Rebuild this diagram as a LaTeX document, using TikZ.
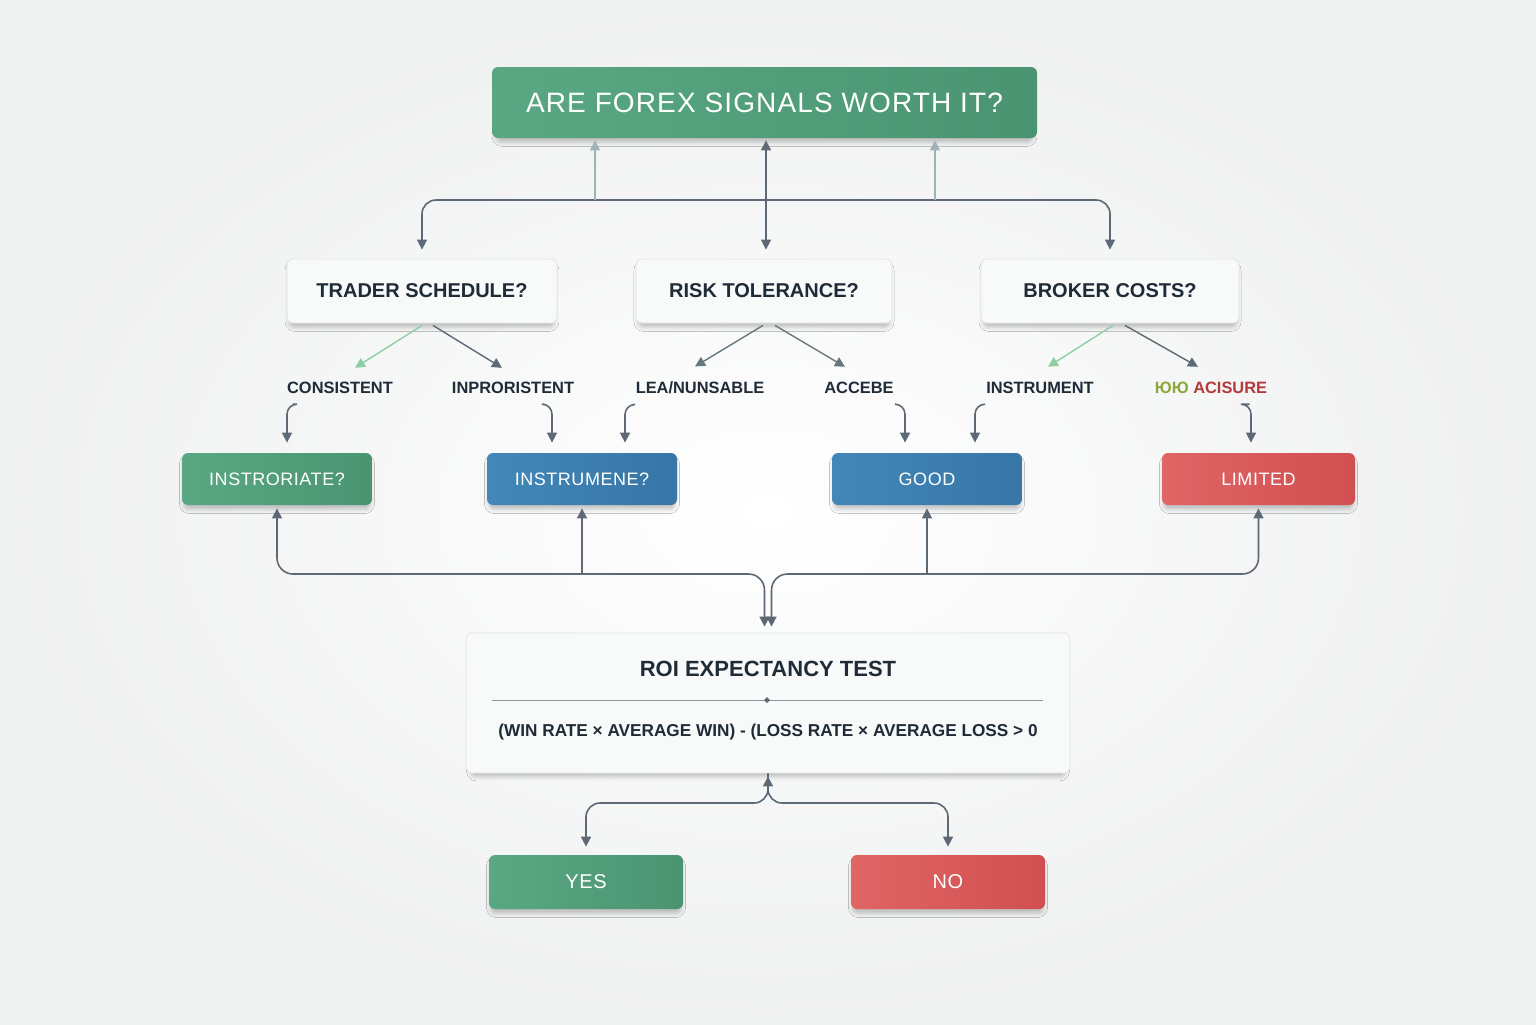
\documentclass[tikz,border=0pt]{standalone}
\usepackage{fontspec}
\setmainfont{Liberation Sans}
\newfontfamily\spaced[LetterSpace=4]{Liberation Sans}
\newfontfamily\spacedsm[LetterSpace=3]{Liberation Sans}
\usetikzlibrary{arrows.meta,shadows.blur}

\definecolor{bgedge}{HTML}{EFF0F0}
\definecolor{ink}{HTML}{1F2B37}
\definecolor{wire}{HTML}{5E6976}
\definecolor{leaf}{HTML}{8CCFA3}
\definecolor{faintwire}{HTML}{9DB3B5}
\definecolor{greenA}{HTML}{5AA883}
\definecolor{greenB}{HTML}{4A9472}
\definecolor{blueA}{HTML}{4287B8}
\definecolor{blueB}{HTML}{3776A6}
\definecolor{redA}{HTML}{E06565}
\definecolor{redB}{HTML}{D14F50}
\definecolor{qfill}{HTML}{F8F9F9}
\definecolor{qline}{HTML}{E1E4E6}
\definecolor{warn}{HTML}{B23A3C}
\definecolor{olivey}{HTML}{8BA83A}

\begin{document}
\begin{tikzpicture}[x=0.5pt, y=-0.5pt,
  >={Triangle[length=5pt,width=5pt]},
  every node/.style={inner sep=0pt},
  shade box/.style={rounded corners=3pt,
    blur shadow={shadow xshift=0pt, shadow yshift=-2.5pt, shadow scale=0.985, shadow blur radius=2pt, shadow blur extra rounding=2pt, shadow opacity=22}},
  qbox/.style={shade box, fill=qfill, draw=qline, line width=0.4pt,
    minimum height=32pt, text=ink, font=\bfseries\fontsize{10}{12}\selectfont},
  greenbox/.style={shade box, left color=greenA, right color=greenB, text=white},
  bluebox/.style={shade box, left color=blueA, right color=blueB, text=white},
  redbox/.style={shade box, left color=redA, right color=redB, text=white},
  result/.style={minimum width=95pt, minimum height=26pt, font=\spacedsm\fontsize{9}{11}\selectfont},
  answer/.style={minimum width=97pt, minimum height=27pt, font=\spacedsm\fontsize{10}{12}\selectfont},
  choice/.style={text=ink, font=\bfseries\fontsize{8.2}{10}\selectfont},
  wireline/.style={draw=wire, line width=0.8pt},
  branch/.style={->, line width=0.7pt},
  drop/.style={->, wireline, rounded corners=5pt, shorten >=5pt}]

  \shade [inner color=white, outer color=bgedge] (0,0) rectangle (1536,1024);

  \node [greenbox, minimum width=272.5pt, minimum height=35.5pt,
    font=\spaced\fontsize{14}{16}\selectfont] (title) at (764.5,102.5) {ARE FOREX SIGNALS WORTH IT?};

  \node [qbox, minimum width=135pt] (sched) at (422,291) {TRADER SCHEDULE?};
  \node [qbox, minimum width=128pt] (risk) at (764,291) {RISK TOLERANCE?};
  \node [qbox, minimum width=129pt] (broker) at (1110,291) {BROKER COSTS?};

  \coordinate (hub) at (766,200);
  \coordinate (tl) at (595,200);
  \coordinate (tr) at (935,200);
  \draw [<->, wireline, shorten <=1pt, shorten >=4.5pt] (title.south -| hub) -- (risk.north -| hub);
  \draw [->, wireline, rounded corners=7pt, shorten >=4.5pt] (hub) -| (sched.north);
  \draw [->, wireline, rounded corners=7pt, shorten >=4.5pt] (hub) -| (broker.north);
  \draw [->, draw=faintwire, line width=0.6pt, shorten >=1pt] (tl) -- (tl |- title.south);
  \draw [->, draw=faintwire, line width=0.6pt, shorten >=1pt] (tr) -- (tr |- title.south);

  \node [choice] (consist) at (340,388) {CONSISTENT};
  \node [choice] (inpro) at (513,388) {INPRORISTENT};
  \node [choice] (leanu) at (700,388) {LEA/NUNSABLE};
  \node [choice] (accebe) at (859,388) {ACCEBE};
  \node [choice] (instr) at (1040,388) {INSTRUMENT};
  \node [choice] (acisure) at (1211,388) {{\color{olivey}ЮЮ} {\color{warn}ACISURE}};

  \draw [branch, leaf] ([yshift=-1pt]sched.south) -- ([xshift=7.5pt, yshift=7pt]consist.north);
  \draw [branch, wire] ([xshift=5.5pt, yshift=-1pt]sched.south) -- ([xshift=-5.5pt, yshift=7pt]inpro.north);
  \draw [branch, wire!85!leaf] ([xshift=-0.5pt, yshift=-1pt]risk.south) -- ([xshift=-2.5pt, yshift=7.5pt]leanu.north);
  \draw [branch, wire!85!leaf] ([xshift=5.5pt, yshift=-1pt]risk.south) -- ([xshift=-7pt, yshift=7.5pt]accebe.north);
  \draw [branch, leaf] ([xshift=1.5pt, yshift=-1pt]broker.south) -- ([xshift=4pt, yshift=7.5pt]instr.north);
  \draw [branch, wire] ([xshift=7.5pt, yshift=-1pt]broker.south) -- ([xshift=-6.5pt, yshift=7.5pt]acisure.north);

  \node [greenbox, result] (instroriate) at (277,479) {INSTRORIATE?};
  \node [bluebox, result] (instrumene) at (582,479) {INSTRUMENE?};
  \node [bluebox, result] (good) at (927,479) {GOOD};
  \node [redbox, result, minimum width=96.5pt] (limited) at (1258.5,479) {LIMITED};

  \draw [drop] ([xshift=3pt, yshift=-5pt]consist.south west) -| ([xshift=5pt]instroriate.north);
  \draw [drop] ([xshift=-15pt, yshift=-5pt]inpro.south east) -| ([xshift=-15pt]instrumene.north);
  \draw [drop] ([xshift=-1pt, yshift=-5pt]leanu.south west) -| ([xshift=21.5pt]instrumene.north);
  \draw [drop] ([xshift=1pt, yshift=-5pt]accebe.south east) -| ([xshift=-11pt]good.north);
  \draw [drop] ([xshift=-0.5pt, yshift=-5pt]instr.south west) -| ([xshift=24pt]good.north);
  \draw [drop] ([xshift=-9pt, yshift=-5pt]acisure.south east) -| ([xshift=-3.75pt]limited.north);

  \node [qbox, minimum width=302pt, minimum height=70pt] (roi) at (768,703) {};
  \node [text=ink, font=\bfseries\fontsize{11}{13}\selectfont] (roititle) at (768,669) {ROI EXPECTANCY TEST};
  \node [text=ink, font=\bfseries\fontsize{8.6}{10}\selectfont] (formula) at (768,732)
    {(WIN RATE × AVERAGE WIN) - (LOSS RATE × AVERAGE LOSS > 0};
  \draw [wire!70, line width=0.5pt] (492,700) -- (1043,700);
  \fill [wire] (767,700) +(-3,0) -- +(0,-3) -- +(3,0) -- +(0,3) -- cycle;

  \coordinate (merge) at (768,574);
  \draw [<->, wireline, rounded corners=8pt, shorten <=1.5pt, shorten >=3pt]
    (instroriate.south) |- ([xshift=-1.75pt]merge) -- ([xshift=-1.75pt]roi.north);
  \draw [<->, wireline, rounded corners=8pt, shorten <=1.5pt, shorten >=3pt]
    (limited.south) |- ([xshift=1.75pt]merge) -- ([xshift=1.75pt]roi.north);
  \draw [->, wireline, shorten >=1.5pt] (instrumene.south |- merge) -- (instrumene.south);
  \draw [->, wireline, shorten >=1.5pt] (good.south |- merge) -- (good.south);

  \node [greenbox, answer] (yes) at (586,882) {YES};
  \node [redbox, answer] (no) at (948,882) {NO};

  \coordinate (split) at (767,803);
  \draw [<->, wireline, rounded corners=7pt, shorten <=1.5pt, shorten >=4pt]
    (roi.south) |- (yes.north |- split) -- (yes.north);
  \draw [->, wireline, rounded corners=7pt, shorten >=4pt]
    (roi.south) |- (no.north |- split) -- (no.north);
\end{tikzpicture}
\end{document}
